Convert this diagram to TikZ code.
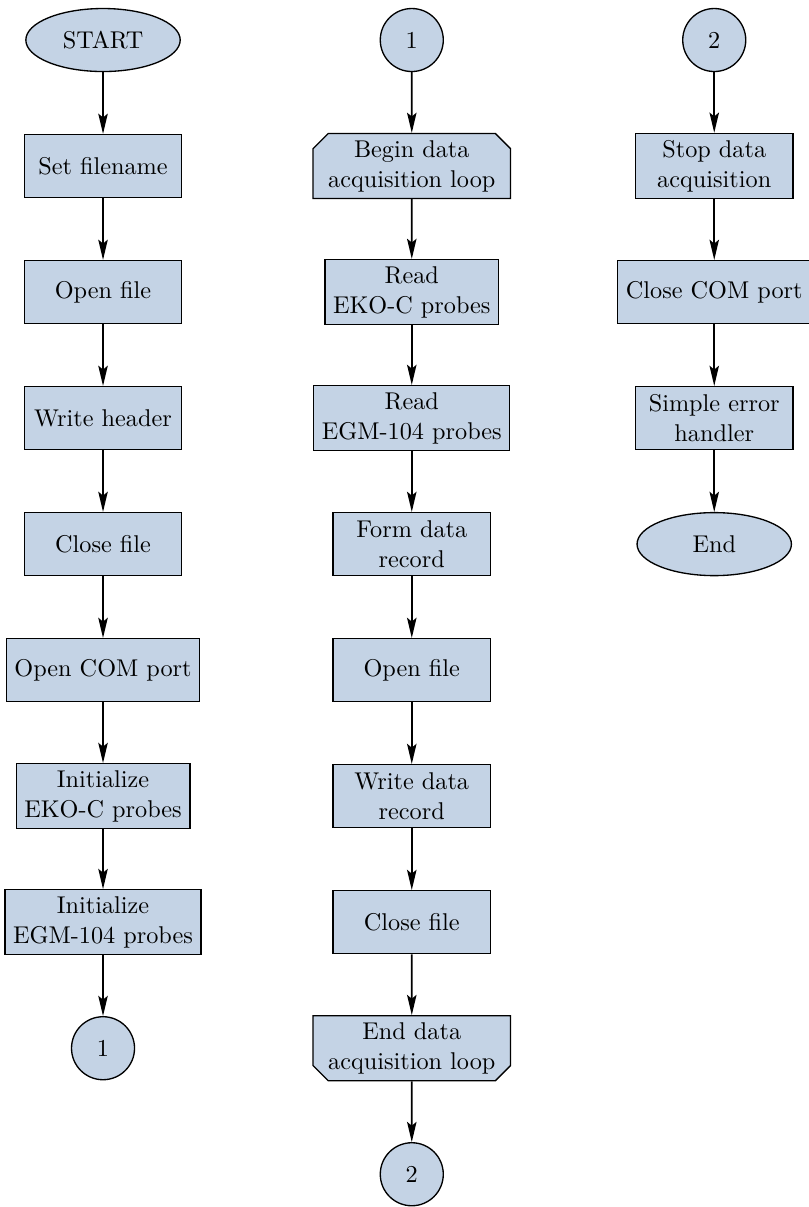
\documentclass[11pt,tikz,border=0pt]{standalone}
\usepackage{tikz}
\usetikzlibrary{shapes.geometric, shapes.misc, arrows.meta}
\definecolor{boxblue}{RGB}{196,211,229}
\tikzstyle{startstop} = [ellipse, minimum width=2.45cm, minimum height=1cm, text centered, semithick, draw=black, fill=boxblue]
\tikzstyle{process} = [rectangle, minimum width=2.5cm, minimum height=1cm, inner ysep=3pt, text centered, align=center, semithick, draw=black, fill=boxblue]
\tikzstyle{connector} = [circle, minimum size=1cm, inner sep=0pt, semithick, draw=black, fill=boxblue]
\tikzstyle{loopbegin} = [chamfered rectangle, chamfered rectangle corners={north west, north east}, chamfered rectangle xsep=0.24cm, chamfered rectangle ysep=0pt, inner xsep=0pt, inner ysep=3pt, minimum height=0.8cm, align=center, semithick, draw=black, fill=boxblue]
\tikzstyle{loopend} = [chamfered rectangle, chamfered rectangle corners={south west, south east}, chamfered rectangle xsep=0.24cm, chamfered rectangle ysep=0pt, inner xsep=0pt, inner ysep=3pt, minimum height=0.8cm, align=center, semithick, draw=black, fill=boxblue]
\tikzstyle{arrow} = [thick,-{Stealth[length=3.2mm,width=1.5mm,inset=0.6mm]}]

\begin{document}
\begin{tikzpicture}[node distance=2cm]
        \useasboundingbox (-1.635,0.635) rectangle (11.19,-18.52);
        % first column
        \node (start) [startstop] {START};
        \node (setname) [process, below of=start] {Set filename};
        \node (openfile) [process, below of=setname] {Open file};
        \node (writehead) [process, below of=openfile] {Write header};
        \node (closefile) [process, below of=writehead] {Close file};
        \node (opencom) [process, below of=closefile] {Open COM port};
        \node (initeko) [process, below of=opencom] {Initialize\\EKO-C probes};
        \node (initegm) [process, below of=initeko] {Initialize\\EGM-104 probes};
        \node (conA) [connector, below of=initegm] {1};

        % second column
        \node (conAin) [connector, right of=start, xshift=2.9cm] {1};
        \node (beginloop) [loopbegin, below of=conAin] {Begin data\\acquisition loop};
        \node (readeko) [process, below of=beginloop] {Read\\EKO-C probes};
        \node (readegm) [process, below of=readeko] {Read\\EGM-104 probes};
        \node (formrec) [process, below of=readegm] {Form data\\record};
        \node (openfile2) [process, below of=formrec] {Open file};
        \node (writerec) [process, below of=openfile2] {Write data\\record};
        \node (closefile2) [process, below of=writerec] {Close file};
        \node (endloop) [loopend, below of=closefile2] {End data\\acquisition loop};
        \node (conB) [connector, below of=endloop] {2};

        % third column
        \node (conBin) [connector, right of=conAin, xshift=2.8cm] {2};
        \node (stopacq) [process, below of=conBin] {Stop data\\acquisition};
        \node (closecom) [process, below of=stopacq] {Close COM port};
        \node (errhandler) [process, below of=closecom] {Simple error\\handler};
        \node (stop) [startstop, below of=errhandler] {End};

        \draw [arrow] (start) -- (setname);
        \draw [arrow] (setname) -- (openfile);
        \draw [arrow] (openfile) -- (writehead);
        \draw [arrow] (writehead) -- (closefile);
        \draw [arrow] (closefile) -- (opencom);
        \draw [arrow] (opencom) -- (initeko);
        \draw [arrow] (initeko) -- (initegm);
        \draw [arrow] (initegm) -- (conA);

        \draw [arrow] (conAin) -- (beginloop);
        \draw [arrow] (beginloop) -- (readeko);
        \draw [arrow] (readeko) -- (readegm);
        \draw [arrow] (readegm) -- (formrec);
        \draw [arrow] (formrec) -- (openfile2);
        \draw [arrow] (openfile2) -- (writerec);
        \draw [arrow] (writerec) -- (closefile2);
        \draw [arrow] (closefile2) -- (endloop);
        \draw [arrow] (endloop) -- (conB);

        \draw [arrow] (conBin) -- (stopacq);
        \draw [arrow] (stopacq) -- (closecom);
        \draw [arrow] (closecom) -- (errhandler);
        \draw [arrow] (errhandler) -- (stop);
    \end{tikzpicture}
\end{document}
